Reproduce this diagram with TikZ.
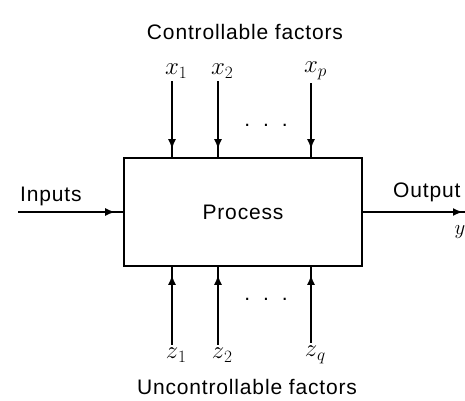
\documentclass[tikz,border=0pt]{standalone}
\usepackage{fontspec}
\setmainfont[LetterSpace=4]{Liberation Sans}
\usetikzlibrary{arrows.meta}

\begin{document}
\begin{tikzpicture}[x=1pt, y=-1pt,
                every node/.style={font=\fontsize{21}{25}\selectfont, inner sep=2pt},
                proc/.style={draw, line width=1.6pt, minimum width=238pt, minimum height=108pt, inner sep=0pt},
                factor/.style={inner sep=3pt, font=\fontsize{23}{27}\selectfont},
                feed/.style={line width=2.2pt, postaction={draw, -{Latex[length=10pt, width=8pt]}, shorten >=#1}},
                feed/.default=8pt
            ]
                \useasboundingbox (0,0) rectangle (465,400);
                % the process box
                \node[proc] (proc) at (243,212) {Process};
                % controllable factors
                \node (ctitle) at (245,32) {Controllable factors};
                \node[factor] (x1) at (172,71) {$x\rlap{$_1$}$};
                \node[factor] (x2) at (218,71) {$x\rlap{$_2$}$};
                \node[factor] (xp) at (311,71) {$x\rlap{$_p$}$};
                \node (dtop) at (266,125) {.\hspace{13pt}.\hspace{13pt}.};
                \foreach \f in {x1, x2, xp}
                    \draw[feed] (\f.south) -- (\f.south |- proc.north);
                % uncontrollable factors
                \node[factor] (z1) at (172,355) {$z\rlap{$_1$}$};
                \node[factor] (z2) at (218,355) {$z\rlap{$_2$}$};
                \node[factor] (zq) at (311,355) {$z\rlap{$_q$}$};
                \node (dbot) at (266,299) {.\hspace{13pt}.\hspace{13pt}.};
                \node (utitle) at (247,387) {Uncontrollable factors};
                \foreach \f in {z1, z2, zq}
                    \draw[feed] (\f.north) -- (\f.north |- proc.south);
                % inputs and output
                \coordinate (in) at (18,212);
                \coordinate (out) at (465,212);
                \node[anchor=west] (inputs) at (18,196) {Inputs};
                \node[anchor=west] (output) at (391,192) {Output};
                \node (yout) at (460,232) {$y$};
                \draw[feed] (in) -- (proc.west);
                \draw[feed=2pt] (proc.east) -- (out);
            \end{tikzpicture}
\end{document}
